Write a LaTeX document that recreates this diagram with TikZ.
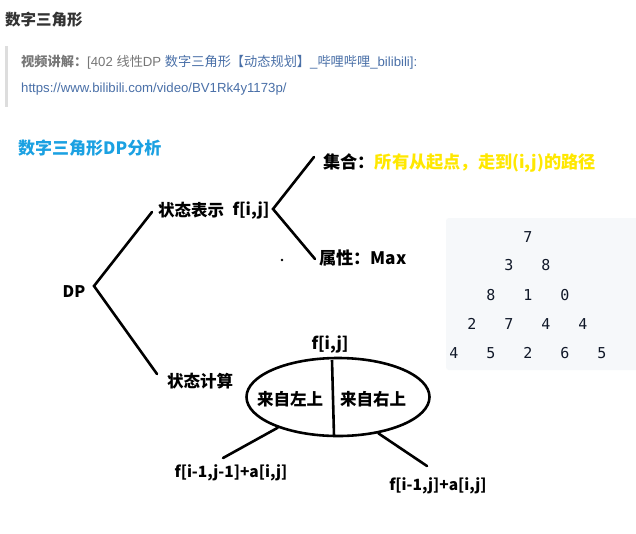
\documentclass[tikz,border=0pt]{standalone}
\usepackage{fontspec}
\setmainfont{Liberation Sans}
\newfontfamily\cjk{Noto Sans CJK SC}
\newfontfamily\monof{DejaVu Sans Mono}
\usetikzlibrary{shapes.geometric}
\definecolor{titlegray}{HTML}{333333}
\definecolor{quotegray}{HTML}{777777}
\definecolor{linkblue}{HTML}{4A70A8}
\definecolor{barcol}{HTML}{DDDDDD}
\definecolor{headblue}{HTML}{1BA1E2}
\definecolor{yel}{HTML}{FFE800}
\definecolor{codebg}{HTML}{F6F8FA}
\definecolor{codefg}{HTML}{101828}
\begin{document}
\begin{tikzpicture}[x=1pt,y=-1pt,
  lbl/.style={font=\cjk\bfseries\fontsize{16.5}{18}\selectfont, inner sep=0pt, text=black},
  lblb/.style={lbl, font=\cjk\bfseries\fontsize{17.2}{19}\selectfont},
  branch/.style={line width=2.6pt, line cap=round},
  digit/.style={font=\monof\fontsize{15}{17}\selectfont, text=codefg, inner sep=0pt}]
\useasboundingbox (0,0) rectangle (636,533);
\fill[white] (0,0) rectangle (636,533);
% header
\node[anchor=west, inner sep=0pt, text=titlegray, font=\cjk\bfseries\fontsize{15.5}{17}\selectfont] (title) at (5,20) {数字三角形};
\fill[barcol] (5,46) rectangle (8,107);
\node[anchor=west, inner sep=0pt, font=\fontsize{13.2}{15}\selectfont] (src) at (21,62)
  {{\cjk\bfseries\color{quotegray}视频讲解：}{\color{quotegray}[402 {\cjk 线性}DP }{\color{linkblue}{\cjk 数字三角形【动态规划】}\_{\cjk 哔哩哔哩}\_bilibili]:}};
\node[anchor=west, inner sep=0pt, text=linkblue, font=\fontsize{13.2}{15}\selectfont] (url) at (21,89) {https://www.bilibili.com/video/BV1Rk4y1173p/};
\node[anchor=west, inner sep=0pt, text=headblue, font=\cjk\bfseries\fontsize{17}{19}\selectfont] (head) at (18,148) {数字三角形DP分析};
% tree
\node[lbl, font=\cjk\bfseries\fontsize{16}{18}\selectfont] (dp) at (74,292) {DP};
\node[lbl, anchor=west] (rep) at (158,210) {状态表示};
\node[lbl] (fij) at (251,211) {f[i,j]};
\node[lblb, anchor=west] (set) at (323,163) {集合：\textcolor{yel}{所有从起点，走到(i,j)的路径}};
\node[lblb, anchor=west] (attr) at (319,258) {属性：Max};
\fill (282,260) circle (1.4);
\node[lbl, anchor=west] (calc) at (167,381) {状态计算};
\coordinate (v1) at (94,286);
\coordinate (v1a) at (152,212);
\coordinate (v1b) at (157,374);
\draw[branch] (v1a) -- (v1) -- (v1b);
\coordinate (v2) at (273,209);
\coordinate (v2a) at (314,157);
\coordinate (v2b) at (315,259);
\draw[branch] (v2a) -- (v2) -- (v2b);
% ellipse
\node[draw, ellipse, line width=2.6pt, minimum width=183pt, minimum height=78pt, inner sep=0pt] (ell) at (338,397) {};
\node[lbl] (ftop) at (330,345) {f[i,j]};
\coordinate (vt) at (332,360);
\coordinate (vb) at (334,436);
\draw[line width=2.6pt] (vt) -- (vb);
\node[lbl] (left) at (290,399) {来自左上};
\node[lbl] (right) at (373,399) {来自右上};
\node[lbl, font=\cjk\bfseries\fontsize{15.5}{18}\selectfont] (fl) at (231,473) {f[i-1,j-1]+a[i,j]};
\node[lbl, font=\cjk\bfseries\fontsize{15.5}{18}\selectfont] (fr) at (438,486) {f[i-1,j]+a[i,j]};
\coordinate (le) at (223,458);
\coordinate (re) at (427,466);
\draw[branch] (ell.207) -- (le);
\draw[branch] (ell.318) -- (re);
% code box
\fill[codebg, rounded corners=3pt] (446,218) rectangle (640,370);
\node[digit] (r1a) at (528,237) {7};
\node[digit] (r2a) at (509,265) {3};
\node[digit] (r2b) at (546,265) {8};
\node[digit] (r3a) at (491,295) {8};
\node[digit] (r3b) at (528,295) {1};
\node[digit] (r3c) at (565,295) {0};
\node[digit] (r4a) at (472,324) {2};
\node[digit] (r4b) at (509,324) {7};
\node[digit] (r4c) at (546,324) {4};
\node[digit] (r4d) at (583,324) {4};
\node[digit] (r5a) at (454,353) {4};
\node[digit] (r5b) at (491,353) {5};
\node[digit] (r5c) at (528,353) {2};
\node[digit] (r5d) at (565,353) {6};
\node[digit] (r5e) at (602,353) {5};
\end{tikzpicture}
\end{document}
